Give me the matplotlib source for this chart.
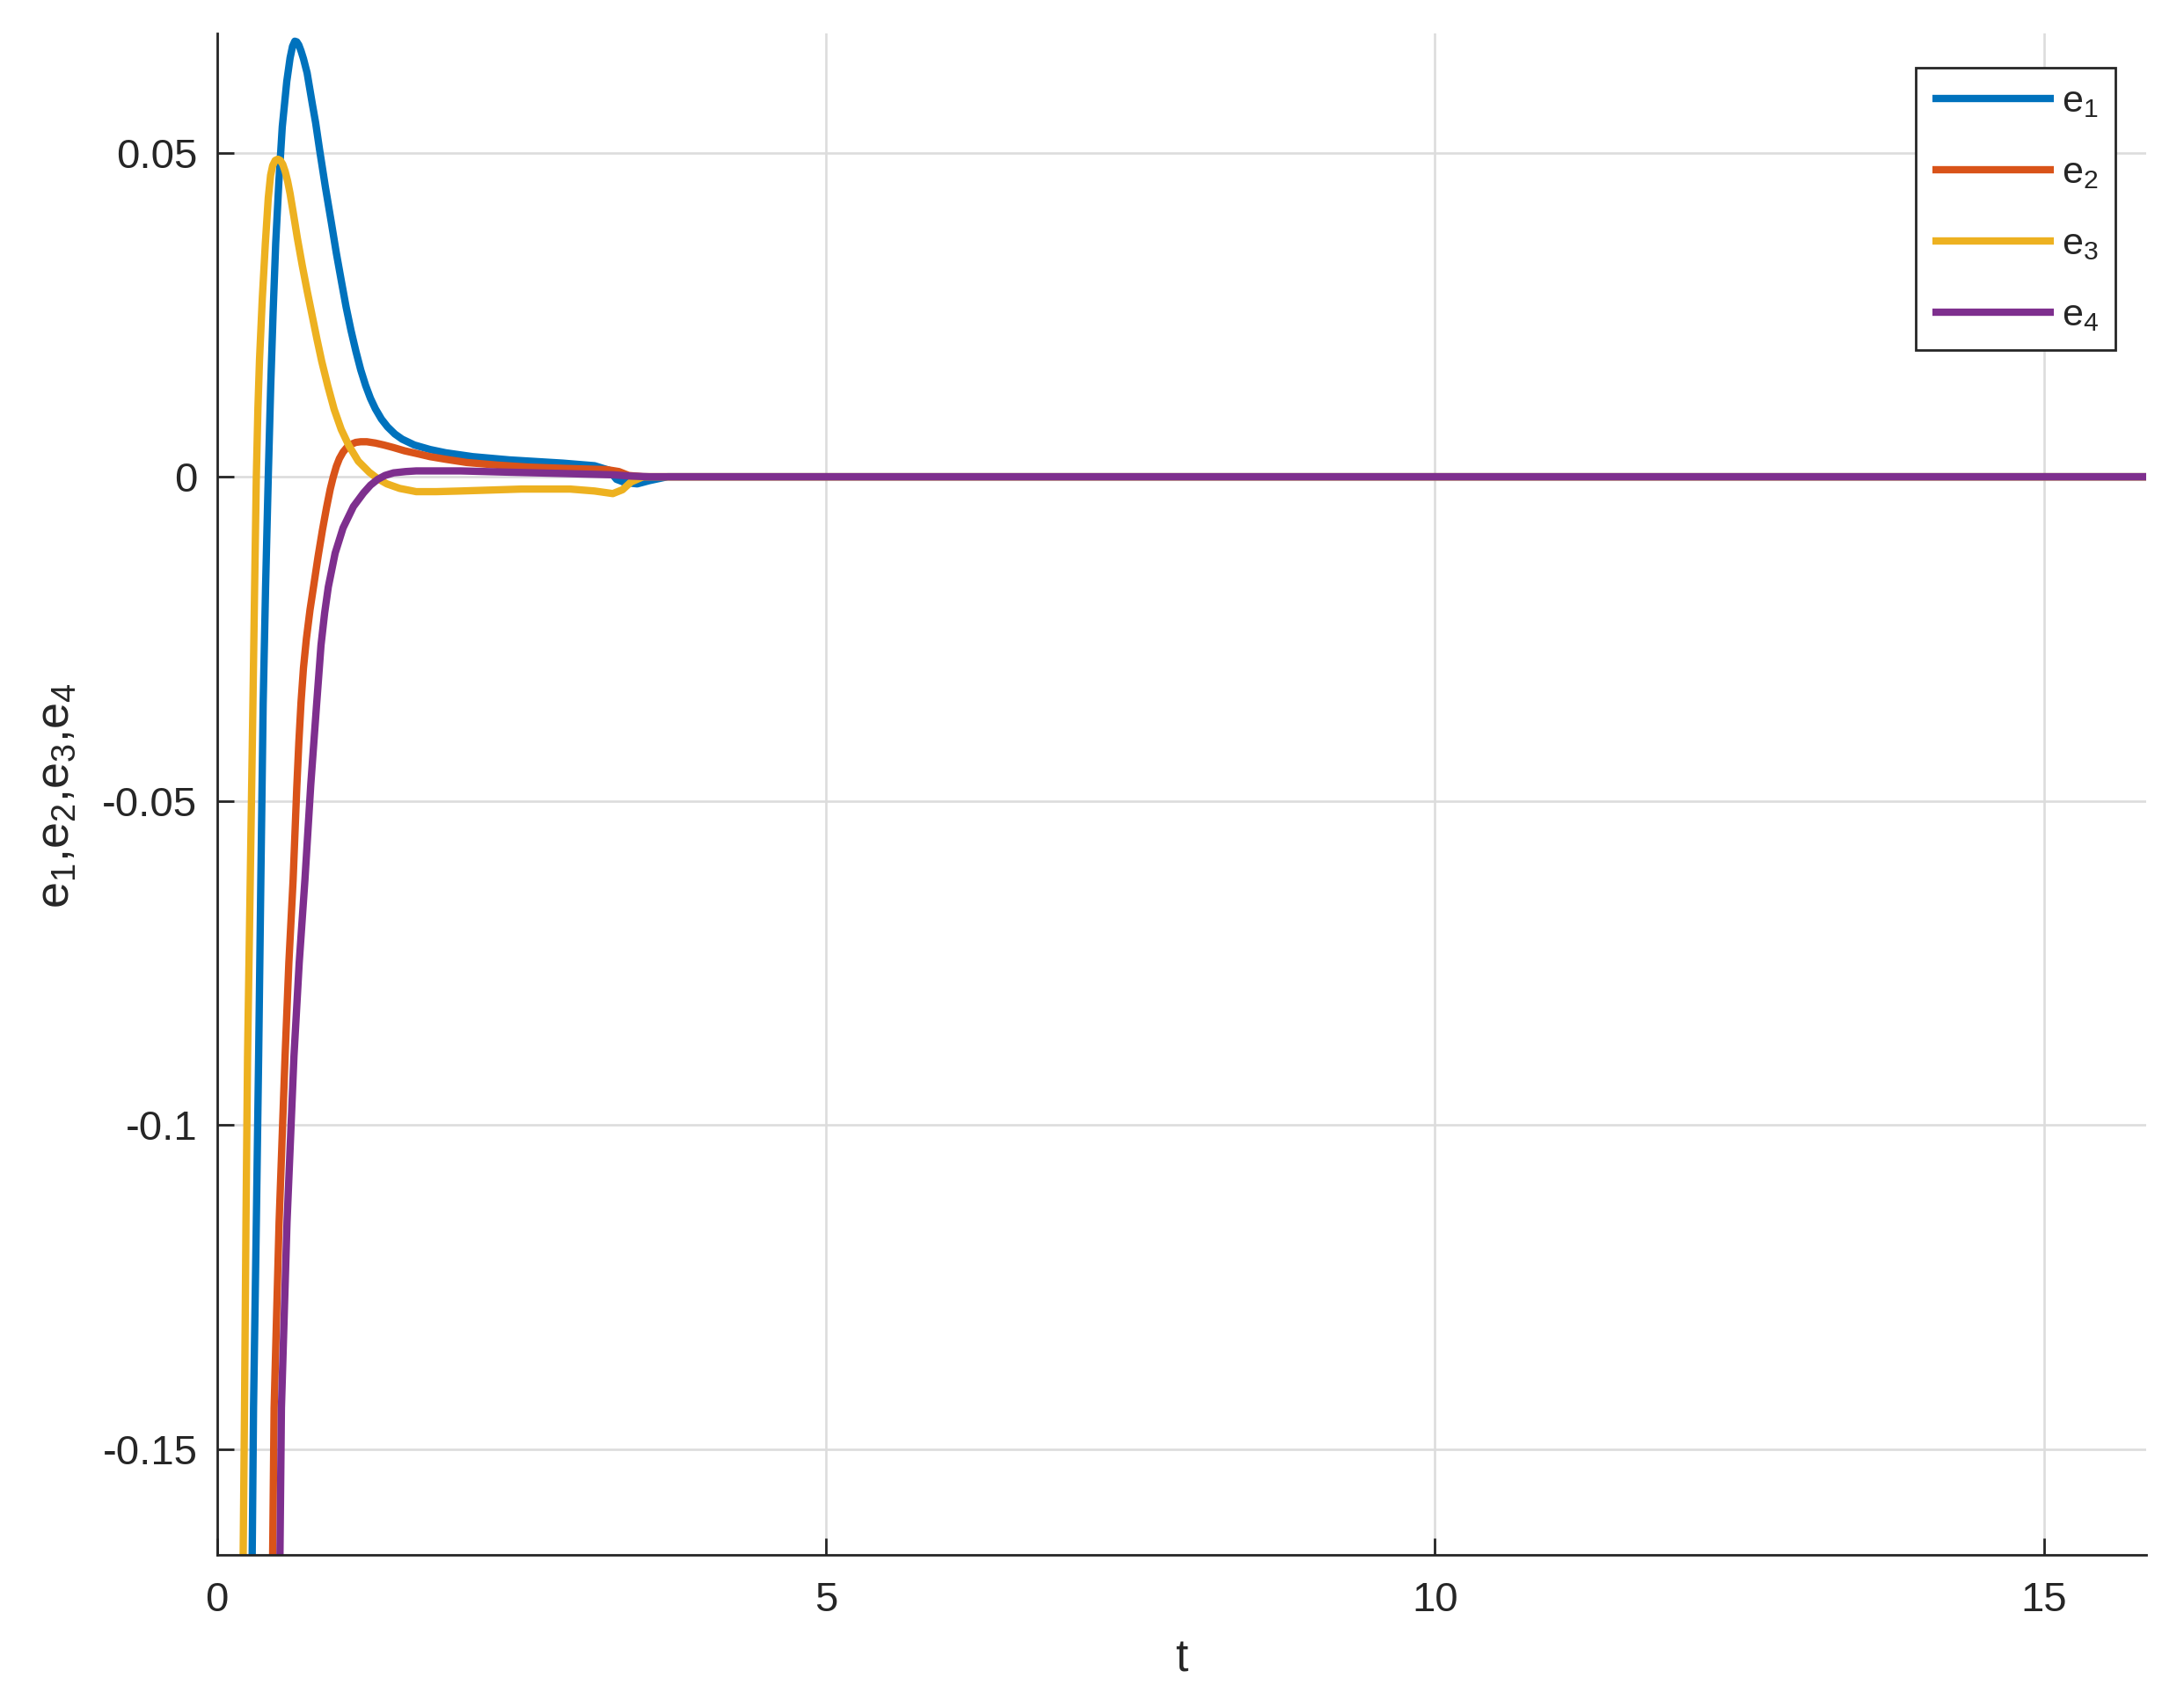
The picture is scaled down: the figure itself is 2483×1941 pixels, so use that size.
import matplotlib
matplotlib.use("Agg")
import matplotlib.pyplot as plt

plt.rcParams['font.family'] = ['Liberation Sans', 'DejaVu Sans']
plt.rcParams['mathtext.fontset'] = 'custom'
plt.rcParams['mathtext.rm'] = 'Liberation Sans'
plt.rcParams['mathtext.it'] = 'Liberation Sans'
plt.rcParams['axes.unicode_minus'] = False

# ---------------- data ----------------
t_e1 = [0.0, 0.22, 0.289, 0.300, 0.323, 0.342, 0.360, 0.379, 0.399, 0.421, 0.441, 0.461,
        0.482, 0.508, 0.536, 0.573, 0.600, 0.620, 0.639, 0.655, 0.672, 0.69, 0.71, 0.74,
        0.782, 0.81, 0.842, 0.89, 0.939, 0.98, 1.022, 1.06, 1.10, 1.14, 1.18, 1.22,
        1.26, 1.30, 1.35, 1.40, 1.46, 1.52, 1.62, 1.75, 1.877, 2.1, 2.4, 2.84,
        3.10, 3.22, 3.28, 3.35, 3.45, 3.55, 3.70, 15.84]
e1 = [-0.70, -0.25, -0.1663, -0.1437, -0.115, -0.0894, -0.0622, -0.0351, -0.017, 0.0, 0.0140, 0.0255,
      0.0360, 0.0455, 0.0540, 0.0610, 0.0646, 0.0664, 0.0672, 0.0671, 0.0666, 0.0657, 0.0645, 0.0623,
      0.0576, 0.0546, 0.0505, 0.0447, 0.0392, 0.0345, 0.0301, 0.0262, 0.0226, 0.0194, 0.0165, 0.0141,
      0.0121, 0.0105, 0.0089, 0.0077, 0.0066, 0.0058, 0.0049, 0.0042, 0.0037, 0.0031, 0.0026, 0.0021,
      0.0017, 0.0010, -0.0004, -0.0009, -0.0011, -0.0006, 0.0, 0.0]

t_e2 = [0.0, 0.40, 0.457, 0.469, 0.51, 0.559, 0.59, 0.625, 0.655, 0.672, 0.69, 0.71,
        0.734, 0.764, 0.794, 0.83, 0.866, 0.90, 0.93, 0.955, 0.98, 1.005, 1.035, 1.07,
        1.10, 1.14, 1.18, 1.23, 1.30, 1.37, 1.45, 1.54, 1.636, 1.75, 1.877, 2.05,
        2.3, 2.55, 2.84, 3.20, 3.30, 3.38, 3.50, 15.84]
e2 = [-0.80, -0.26, -0.1663, -0.1437, -0.115, -0.0894, -0.075, -0.0622, -0.048, -0.041, -0.0348, -0.0295,
      -0.0250, -0.0205, -0.0168, -0.0123, -0.0082, -0.0047, -0.0019, 0.0, 0.0016, 0.0028, 0.0038, 0.0046,
      0.0050, 0.0053, 0.0054, 0.0054, 0.0052, 0.0049, 0.0045, 0.0040, 0.0036, 0.0031, 0.0027, 0.0022,
      0.0018, 0.0015, 0.0013, 0.0011, 0.0008, 0.0002, 0.0, 0.0]

t_e3 = [0.0, 0.15, 0.215, 0.226, 0.238, 0.251, 0.273, 0.295, 0.309, 0.323, 0.336, 0.349,
        0.372, 0.397, 0.421, 0.44, 0.457, 0.478, 0.50, 0.52, 0.54, 0.56, 0.58, 0.60,
        0.63, 0.66, 0.70, 0.74, 0.78, 0.82, 0.86, 0.91, 0.962, 1.02, 1.083, 1.16,
        1.25, 1.32, 1.395, 1.50, 1.636, 1.80, 2.0, 2.5, 2.9, 3.10, 3.25, 3.33,
        3.40, 3.50, 15.84]
e3 = [-0.75, -0.30, -0.1663, -0.1437, -0.115, -0.0894, -0.0622, -0.0351, -0.017, 0.0, 0.0105, 0.0180,
      0.0275, 0.0360, 0.0430, 0.0465, 0.0480, 0.0488, 0.0490, 0.0488, 0.0482, 0.0471, 0.0456, 0.0437,
      0.0403, 0.0368, 0.0326, 0.0287, 0.0250, 0.0213, 0.0178, 0.0140, 0.0104, 0.0073, 0.0048, 0.0024,
      0.0007, -0.0003, -0.0011, -0.0018, -0.0023, -0.0023, -0.0022, -0.0019, -0.0019, -0.0022, -0.0026, -0.0020,
      -0.0008, 0.0, 0.0]

t_e4 = [0.0, 0.45, 0.517, 0.529, 0.575, 0.632, 0.675, 0.722, 0.77, 0.818, 0.854, 0.884,
        0.914, 0.97, 1.035, 1.12, 1.203, 1.26, 1.32, 1.38, 1.45, 1.55, 1.636, 2.0,
        2.4, 2.84, 3.25, 3.40, 3.55, 15.84]
e4 = [-0.90, -0.26, -0.1663, -0.1437, -0.115, -0.0894, -0.075, -0.0622, -0.0475, -0.0351, -0.026, -0.021,
      -0.017, -0.0118, -0.0079, -0.0046, -0.0025, -0.0013, -0.0004, 0.0002, 0.0006, 0.0008, 0.0009, 0.0009,
      0.0007, 0.0005, 0.0003, 0.0001, 0.0, 0.0]

series = [(t_e1, e1, r'e$_1$', '#0072BD'),
          (t_e2, e2, r'e$_2$', '#D95319'),
          (t_e3, e3, r'e$_3$', '#EDB120'),
          (t_e4, e4, r'e$_4$', '#7E2F8E')]

x_ticks = [0, 5, 10, 15]
y_ticks = [-0.15, -0.1, -0.05, 0, 0.05]
y_tick_labels = ['-0.15', '-0.1', '-0.05', '0', '0.05']

# ---------------- figure ----------------
W, H = 2483, 1941
fig = plt.figure(figsize=(W / 100, H / 100), dpi=100)
ax = fig.add_axes([246.7 / W, 1 - 1767.7 / H, (2440 - 246.7) / W, (1767.7 - 38) / H])

for tt, yy, lab, col in series:
    ax.plot(tt, yy, color=col, lw=6.0, label=lab, solid_joinstyle='round', solid_capstyle='butt')

ax.set_xlim(0, 15.84)
ax.set_ylim(-0.1663, 0.0684)
ax.set_xticks(x_ticks)
ax.set_xticklabels([str(v) for v in x_ticks])
ax.set_yticks(y_ticks)
ax.set_yticklabels(y_tick_labels)

ax.grid(True, color='#dcdcdc', lw=1.9)
ax.set_axisbelow(True)
for s in ['top', 'right']:
    ax.spines[s].set_visible(False)
for s in ['left', 'bottom']:
    ax.spines[s].set_color('#262626')
    ax.spines[s].set_linewidth(2.0)
ax.tick_params(axis='both', direction='in', length=14, width=2.0, color='#262626',
               labelsize=34, labelcolor='#262626')
ax.tick_params(axis='y', pad=16)
ax.tick_params(axis='x', pad=22)

fig.text(1343 / W, 1 - 1887 / H, 't', fontsize=37, color='#262626', ha='center', va='center')
fig.text(64 / W, 1 - 905 / H, r'e$_1$,e$_2$,e$_3$,e$_4$', fontsize=39, color='#262626',
         ha='center', va='center', rotation=90)

leg = ax.legend(loc='upper left', bbox_to_anchor=(2178 / W, 1 - 77 / H), bbox_transform=fig.transFigure,
                borderaxespad=0, fontsize=31, handlelength=3.2, handletextpad=0.2,
                labelspacing=0.95, borderpad=0.45, fancybox=False, framealpha=1)
leg.get_frame().set_edgecolor('#262626')
leg.get_frame().set_linewidth(2.0)
for txt in leg.get_texts():
    txt.set_color('#262626')

fig.savefig('out.png', dpi=100)
